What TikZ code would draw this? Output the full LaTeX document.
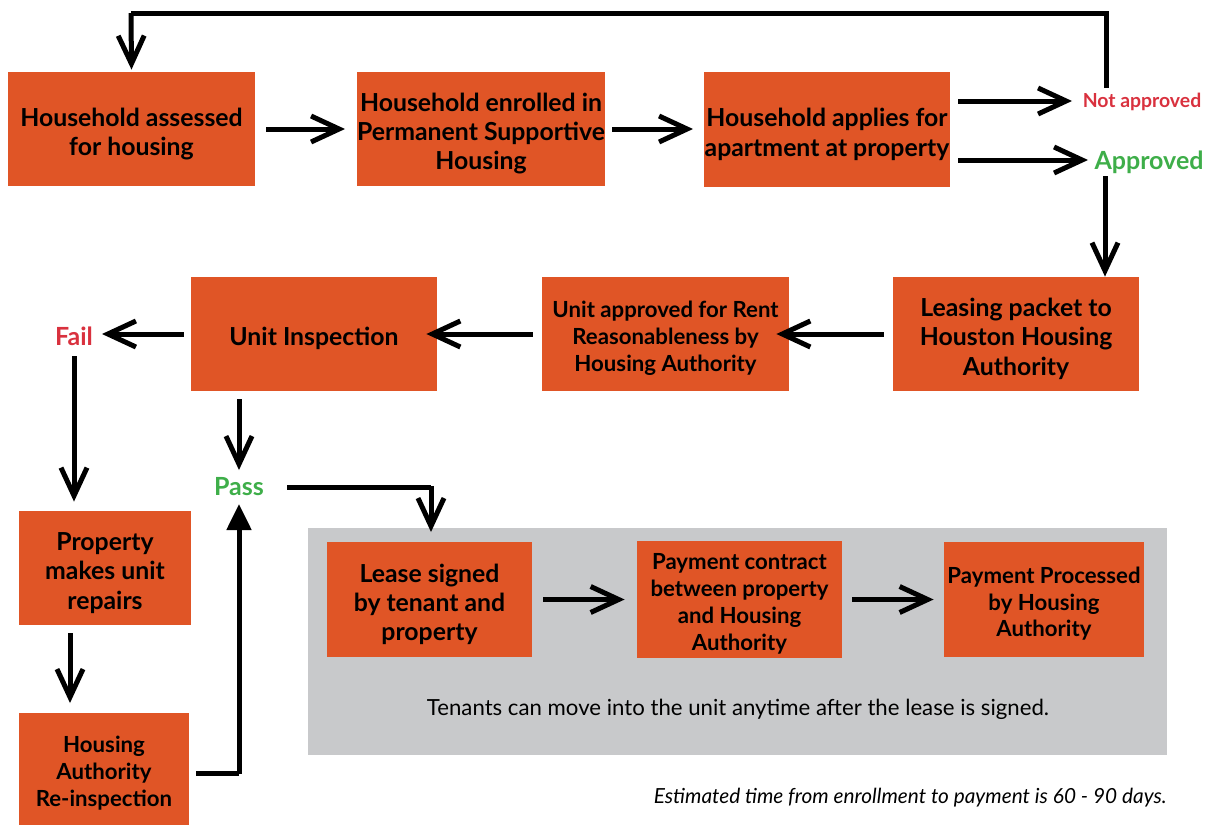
\documentclass[tikz,border=0pt]{standalone}
\usepackage{fontspec}
\setmainfont{Lato}
\usetikzlibrary{arrows.meta}

\definecolor{boxorange}{HTML}{E05526}
\definecolor{panelgray}{HTML}{C8C9CB}
\definecolor{failred}{HTML}{D9313E}
\definecolor{passgreen}{HTML}{3EAE49}

% etwas Luft ueber der ersten Zeile
\newcommand{\topstrut}{\rule{0pt}{1.13em}}

\tikzset{
  stepbox/.style={fill=boxorange, inner xsep=0pt, inner ysep=2pt, align=center,
    font=\fontsize{12.4}{14.6}\selectfont\bfseries},
  smallbox/.style={stepbox, font=\fontsize{11.1}{13.4}\selectfont\bfseries},
  result/.style={font=\fontsize{12.5}{14}\selectfont\bfseries},
  arr/.style={line width=2.5pt, -{Straight Barb[length=14pt,width=13pt]}},
  uparr/.style={line width=2.5pt, -{Triangle[length=13pt,width=12pt]}}
}

\begin{document}
\begin{tikzpicture}[x=0.5pt, y=-0.5pt]
  \useasboundingbox (0,0) rectangle (1212,825);

  % Grauer Bereich
  \fill[panelgray] (308,528) rectangle (1167,755);

  % Erste Reihe
  \node[stepbox, minimum width=123.5pt, minimum height=57pt] (assessed) at (131.5,129) {\topstrut Household assessed\\for housing};
  \node[stepbox, minimum width=123pt, minimum height=57pt] (enrolled) at (481,129) {\topstrut Household enrolled in\\Permanent Supportive\\Housing};
  \node[stepbox, minimum width=123pt, minimum height=57.5pt] (applies) at (827,129.5) {\topstrut Household applies for\\apartment at property};
  \node[font=\fontsize{9.7}{11}\selectfont\bfseries, text=failred] (notok) at (1142,102) {Not approved};
  \node[result, text=passgreen] (ok) at (1149,162) {Approved};

  % Zweite Reihe
  \node[stepbox, minimum width=123pt, minimum height=57pt] (packet) at (1016,334) {\topstrut Leasing packet to\\Houston Housing\\Authority};
  \node[smallbox, minimum width=123.5pt, minimum height=57pt] (rent) at (665.5,334) {\topstrut Unit approved for Rent\\Reasonableness by\\Housing Authority};
  \node[stepbox, minimum width=123pt, minimum height=57pt] (inspect) at (314,334) {\topstrut Unit Inspection};
  \node[result, text=failred] (fail) at (74,336) {Fail};
  \node[result, text=passgreen] (pass) at (239,487) {Pass};

  % Linke Spalte
  \node[stepbox, minimum width=86pt, minimum height=57pt] (repairs) at (105,568) {\topstrut Property\\makes unit\\repairs};
  \node[smallbox, minimum width=85pt, minimum height=56pt] (reinspect) at (104,769) {\topstrut Housing\\Authority\\Re-inspection};

  % Im grauen Bereich
  \node[stepbox, minimum width=102.5pt, minimum height=57.5pt] (lease) at (429.5,599.5) {\topstrut Lease signed\\by tenant and\\property};
  \node[smallbox, minimum width=102.5pt, minimum height=57.5pt] (contract) at (739.5,599.5) {\topstrut Payment contract\\between property\\and Housing\\Authority};
  \node[smallbox, minimum width=100pt, minimum height=57.5pt] (paid) at (1044,599.5) {\topstrut Payment Processed\\by Housing\\Authority};
  \node[font=\fontsize{11.1}{13}\selectfont] (movein) at (738,709) {Tenants can move into the unit anytime after the lease is signed.};
  \node[font=\fontsize{10.4}{12}\selectfont\itshape, anchor=east, inner xsep=0pt] (estimate) at (1167,798) {Estimated time from enrollment to payment is 60 - 90 days.};

  % Pfeile
  \draw[arr] (266,129) -- (345,129);
  \draw[arr] (612,129) -- (693,129);
  \draw[arr] (958,101) -- (1072,101);
  \draw[arr] (958,160) -- (1088,160);
  \draw[line width=2.5pt] (1106,88) -- (1106,13) -- (131,13);
  \draw[arr] (131,13) -- ([yshift=1pt]assessed.north);
  \draw[arr] (1105,176) -- (packet.north -| 1105,0);
  \draw[arr] ([xshift=-4.5pt]packet.west) -- ([xshift=-6.5pt]rent.east);
  \draw[arr] ([xshift=-4.5pt]rent.west) -- ([xshift=-5.5pt]inspect.east);
  \draw[arr] ([xshift=-3.5pt]inspect.west) -- (102,334);
  \draw[arr] (74,356) -- ([yshift=4.5pt]repairs.north -| 74,0);
  \draw[arr] (239,399) -- (239,470);
  \draw[arr] (70,633) -- (70,703);
  \draw[line width=2.5pt] (196,773) -- (239,773);
  \draw[uparr] (239,774.25) -- (239,504);
  \draw[line width=2.5pt] (287,487) -- (431,487);
  \draw[arr] (431,485.75) -- (431,532);
  \draw[arr] ([xshift=5.5pt]lease.east) -- ([xshift=-6pt]contract.west);
  \draw[arr] ([xshift=5pt]contract.east) -- ([xshift=-5pt]paid.west);
\end{tikzpicture}
\end{document}
